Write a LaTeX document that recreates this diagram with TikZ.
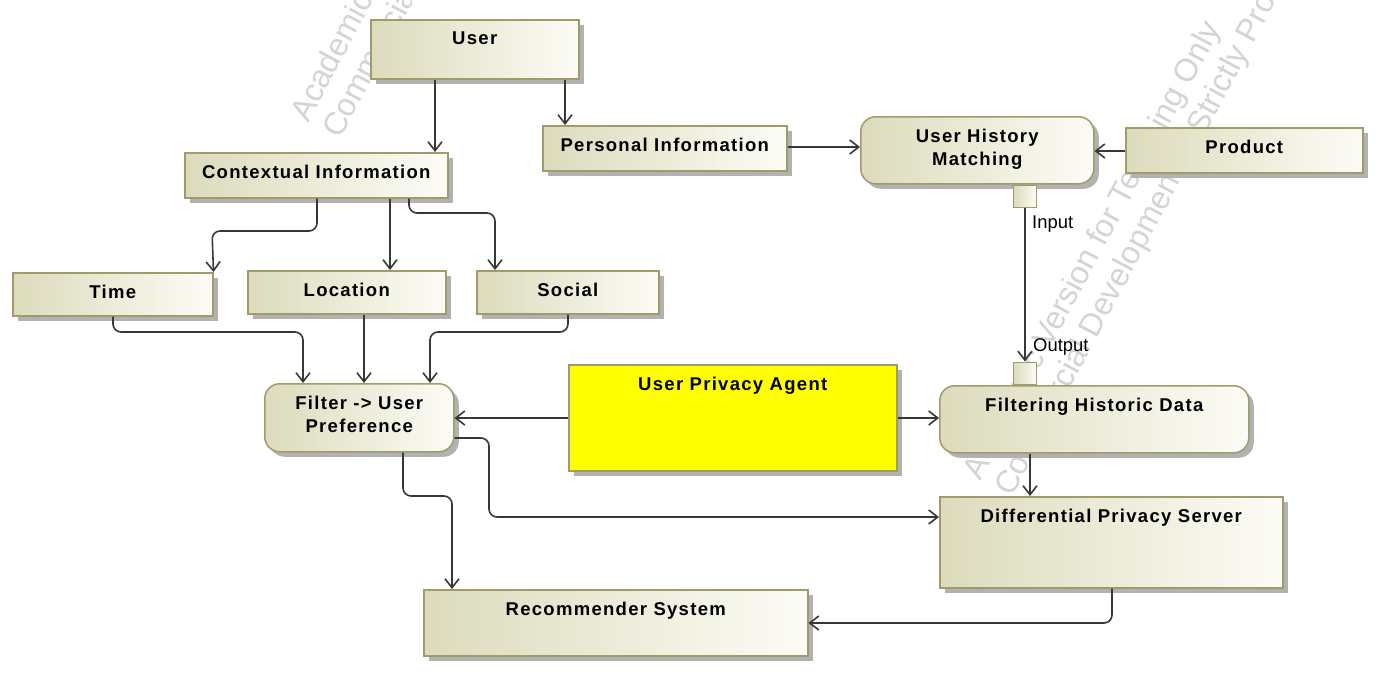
\documentclass[tikz,border=0pt]{standalone}
\usepackage{fontspec}
\setmainfont{Liberation Sans}
\newfontfamily\boxfont[LetterSpace=7]{Liberation Sans}
\usetikzlibrary{arrows.meta,shadows}
\definecolor{boxleft}{RGB}{220,219,188}
\definecolor{boxright}{RGB}{252,252,246}
\definecolor{boxline}{RGB}{160,155,105}
\definecolor{shadowgray}{RGB}{178,178,178}
\definecolor{conngray}{RGB}{55,55,55}
\definecolor{agentyellow}{RGB}{255,255,0}

\begin{document}
\begin{tikzpicture}[x=1pt, y=-1pt]
        \tikzset{>={Straight Barb[length=9pt,width=14pt]}}
        \tikzset{
          plainbox/.style={draw=boxline, line width=1.5pt, anchor=north west, inner sep=0pt,
            drop shadow={shadow xshift=5pt, shadow yshift=-5pt, fill=shadowgray, opacity=1}},
          actbox/.style={plainbox, left color=boxleft, right color=boxright},
          roundbox/.style={actbox, rounded corners=15pt},
          agentbox/.style={plainbox, fill=agentyellow},
          pinbox/.style={draw=boxline, line width=1.5pt, left color=boxleft, right color=boxright,
            inner sep=0pt, minimum width=23pt, minimum height=22pt},
          lbl/.style={anchor=north, yshift=-12.5pt, inner sep=0pt, align=center,
            font=\boxfont\bfseries\fontsize{18.5}{23}\selectfont},
          pinlbl/.style={anchor=west, inner sep=0pt, font=\fontsize{18.4}{22}\selectfont},
          wmark/.style={anchor=base west, inner sep=0pt, rotate=62, text=black!17,
            font=\fontsize{32}{38}\selectfont},
          conn/.style={->, draw=conngray, line width=1.6pt, rounded corners=8pt}
        }
        \useasboundingbox (0,0) rectangle (1378,681);

	% watermark
	\foreach \wx/\wy in {308/124, 980/482} {
	    \node[wmark] (wmtop) at (\wx,\wy) {Academic Version for Teaching Only};
	    \node[wmark] (wmbot) at (\wx+32,\wy+16) {Commercial Development is Strictly Prohibited};
	    }

	% boxes
	\node[actbox, minimum width=208pt, minimum height=59pt, label={[lbl]north:User}] (user) at (370,19) {};
	\node[actbox, minimum width=244pt, minimum height=45pt, label={[lbl]north:Personal Information}] (pinfo) at (542,125) {};
	\node[actbox, minimum width=263pt, minimum height=45pt, label={[lbl]north:Contextual Information}] (ctx) at (184,152) {};
	\node[roundbox, minimum width=233pt, minimum height=67pt, label={[lbl]north:User History\\Matching}] (uhm) at (860,116) {};
	\node[actbox, minimum width=237pt, minimum height=45pt, label={[lbl]north:Product}] (product) at (1125,127) {};
	\node[actbox, minimum width=200pt, minimum height=43pt, label={[lbl]north:Time}] (time) at (12,272) {};
	\node[actbox, minimum width=198pt, minimum height=43pt, label={[lbl]north:Location}] (loc) at (247,270) {};
	\node[actbox, minimum width=182pt, minimum height=43pt, label={[lbl]north:Social}] (social) at (476,270) {};
	\node[roundbox, minimum width=189pt, minimum height=68pt, label={[lbl]north:Filter -> User\\Preference}] (filt) at (264,383) {};
	\node[agentbox, minimum width=328pt, minimum height=106pt, label={[lbl]north:User Privacy Agent}] (agent) at (568,364) {};
	\node[roundbox, minimum width=309pt, minimum height=67pt, label={[lbl]north:Filtering Historic Data}] (fhd) at (939,385) {};
	\node[actbox, minimum width=343pt, minimum height=91pt, label={[lbl]north:Differential Privacy Server}] (dps) at (939,496) {};
	\node[actbox, minimum width=384pt, minimum height=66pt, label={[lbl]north:Recommender System}] (rec) at (423,589) {};

	% pins
	\node[pinbox, anchor=north] (uhmpin) at (uhm.south -| 1025,0) {};
	\node[pinbox, anchor=south] (fhdpin) at (fhd.north -| 1025,0) {};
	\node[pinlbl] (inlbl) at (1032,224) {Input};
	\node[pinlbl] (outlbl) at (1033,347) {Output};

	% connectors
	\draw[conn] (user.south -| 435,0) -- (ctx.north -| 435,0);
	\draw[conn] (user.south -| 565,0) -- (pinfo.north -| 565,0);
	\draw[conn] (pinfo.east |- 0,147) -- (uhm.west |- 0,147);
	\draw[conn] (product.west |- 0,151) -- (uhm.east |- 0,151);
	\draw[conn] (uhmpin.south) -- (fhdpin.north);
	\draw[conn] (ctx.south -| 317,0) |- (212,231) -- (time.north east);
	\draw[conn] (ctx.south -| 390,0) -- (loc.north -| 390,0);
	\draw[conn] (ctx.south -| 409,0) |- (495,213) -- (social.north -| 495,0);
	\draw[conn] (time.south -| 113,0) |- (303,332) -- (filt.north -| 303,0);
	\draw[conn] (loc.south -| 364,0) -- (filt.north -| 364,0);
	\draw[conn] (social.south -| 568,0) |- (430,332) -- (filt.north -| 430,0);
	\draw[conn] (agent.west |- 0,418) -- (filt.east |- 0,418);
	\draw[conn] (agent.east |- 0,418) -- (fhd.west |- 0,418);
	\draw[conn] (filt.south -| 403,0) |- (452,496) -- (rec.north -| 452,0);
	\draw[conn] (filt.east |- 0,438) -| (489,517) -- (dps.west |- 0,517);
	\draw[conn] (fhd.south -| 1030,0) -- (dps.north -| 1030,0);
	\draw[conn] (dps.south -| 1112,0) |- (rec.east |- 0,623);
        \end{tikzpicture}
\end{document}
